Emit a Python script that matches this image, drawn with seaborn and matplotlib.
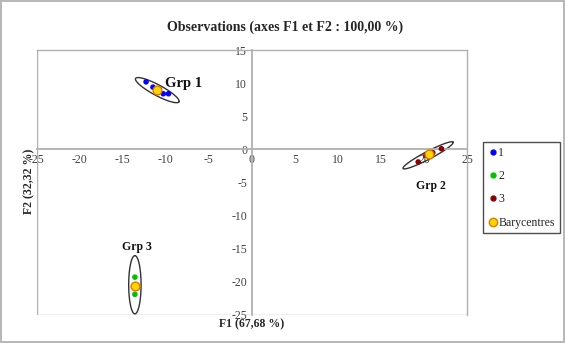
import numpy as np
import pandas as pd
import seaborn as sns
import matplotlib.pyplot as plt
from matplotlib.lines import Line2D

# observations (F1, F2) by group
grp1_f1 = [-12.3, -11.5, -10.3, -9.7]
grp1_f2 = [10.2, 9.4, 8.4, 8.4]
grp2_f1 = [19.3, 20.2, 21.0, 22.0]
grp2_f2 = [-1.9, -0.9, -0.5, 0.1]
grp3_f1 = [-13.6, -13.6]
grp3_f2 = [-19.3, -21.9]

# barycentres
bary_f1 = [-11.0, 20.6, -13.6]
bary_f2 = [8.9, -0.7, -20.6]

# ellipses: centre, major semi-axis vector, minor semi-axis length (data units)
ell_center = [(-11.0, 8.95), (20.45, -0.9), (-13.6, -20.45)]
ell_major = [(2.5, -1.8), (2.9, 2.0), (0.0, 4.4)]
ell_minor = [0.75, 0.55, 0.72]

group_labels = ["Grp 1", "Grp 2", "Grp 3"]
label_pos = [(-10.1, 10.0), (20.8, -5.6), (-13.4, -14.8)]

ticks = [-25, -20, -15, -10, -5, 0, 5, 10, 15, 20, 25]
yticks = [-25, -20, -15, -10, -5, 0, 5, 10, 15]

df = pd.DataFrame({
    "F1": grp1_f1 + grp2_f1 + grp3_f1,
    "F2": grp1_f2 + grp2_f2 + grp3_f2,
    "grp": ["1"] * len(grp1_f1) + ["3"] * len(grp2_f1) + ["2"] * len(grp3_f1),
})

sns.set_style("white")
plt.rcParams["font.family"] = ["Liberation Serif", "DejaVu Serif"]

fig = plt.figure(figsize=(5.65, 3.43), dpi=100)
ax = fig.add_axes([0.065, 0.082, 0.762, 0.772])
fig.patch.set_edgecolor("#b8b8b8")
fig.patch.set_linewidth(1.5)

grey = "#b0b0b0"
# frame
for s in ["top", "right"]:
    ax.spines[s].set_color(grey)
    ax.spines[s].set_linewidth(1)
ax.axvline(-25, color=grey, lw=1, zorder=0)
ax.axhline(-25, color=grey, lw=1, zorder=0)
ax.spines["left"].set_position(("data", 0))
ax.spines["bottom"].set_position(("data", 0))
ax.spines["left"].set_color(grey)
ax.spines["bottom"].set_color(grey)
ax.spines["left"].set_linewidth(1.3)
ax.spines["bottom"].set_linewidth(1.3)

# ellipses
t = np.linspace(0, 2 * np.pi, 200)
for (cx, cy), (mx, my), mn in zip(ell_center, ell_major, ell_minor):
    L = np.hypot(mx, my)
    nx, ny = -my / L * mn, mx / L * mn
    ax.plot(cx + mx * np.cos(t) + nx * np.sin(t),
            cy + my * np.cos(t) + ny * np.sin(t),
            color="#333333", lw=1.0, zorder=2)

palette = {"1": "#0000ff", "2": "#00c000", "3": "#8b0000"}
sns.scatterplot(data=df, x="F1", y="F2", hue="grp", palette=palette,
                s=16, edgecolor="none", legend=False, ax=ax, zorder=3)
sns.scatterplot(x=bary_f1, y=bary_f2, color="#ffd700", edgecolor="#e07800",
                s=40, linewidth=1.0, ax=ax, zorder=4)

for lab, (x, y) in zip(group_labels, label_pos):
    fs = 10.5 if lab == "Grp 1" else 8.5
    ax.text(x, y, lab, fontsize=fs, fontweight="bold", ha="left" if lab == "Grp 1" else "center",
            va="center", color="#111111")

ax.set_xlim(-25, 25)
ax.set_ylim(-25, 15)
ax.set_xticks(ticks)
ax.set_yticks(yticks)
ax.set_xticklabels([str(v) for v in ticks])
ax.set_yticklabels([str(v) for v in yticks])
ax.tick_params(axis="both", direction="inout", length=5, width=0.8, color=grey,
               labelsize=8.5, labelcolor="#404040", pad=1)
ax.set_xlabel("")
ax.set_ylabel("")

fig.text(0.446, 0.055, "F1 (67,68 %)", fontsize=8.5, fontweight="bold", ha="center", va="center")
fig.text(0.052, 0.47, "F2 (32,32 %)", fontsize=8.5, fontweight="bold", ha="center", va="center",
         rotation=90)
fig.text(0.505, 0.92, "Observations (axes F1 et F2 : 100,00 %)", fontsize=10,
         fontweight="bold", ha="center", va="center")

handles = [
    Line2D([], [], ls="", marker="o", ms=3.5, color=palette["1"], label="1"),
    Line2D([], [], ls="", marker="o", ms=3.5, color=palette["2"], label="2"),
    Line2D([], [], ls="", marker="o", ms=3.5, color=palette["3"], label="3"),
    Line2D([], [], ls="", marker="o", ms=6, markerfacecolor="#ffd700",
           markeredgecolor="#e07800", label="Barycentres"),
]
leg = fig.legend(handles=handles, loc="upper left", bbox_to_anchor=(0.855, 0.585),
                 frameon=True, fancybox=False, fontsize=8.5, handletextpad=0.1,
                 handlelength=0.8, labelspacing=0.95, borderpad=0.4, borderaxespad=0)
leg.get_frame().set_edgecolor("#222222")
leg.get_frame().set_linewidth(1.0)

fig.savefig("out.png", dpi=100)
